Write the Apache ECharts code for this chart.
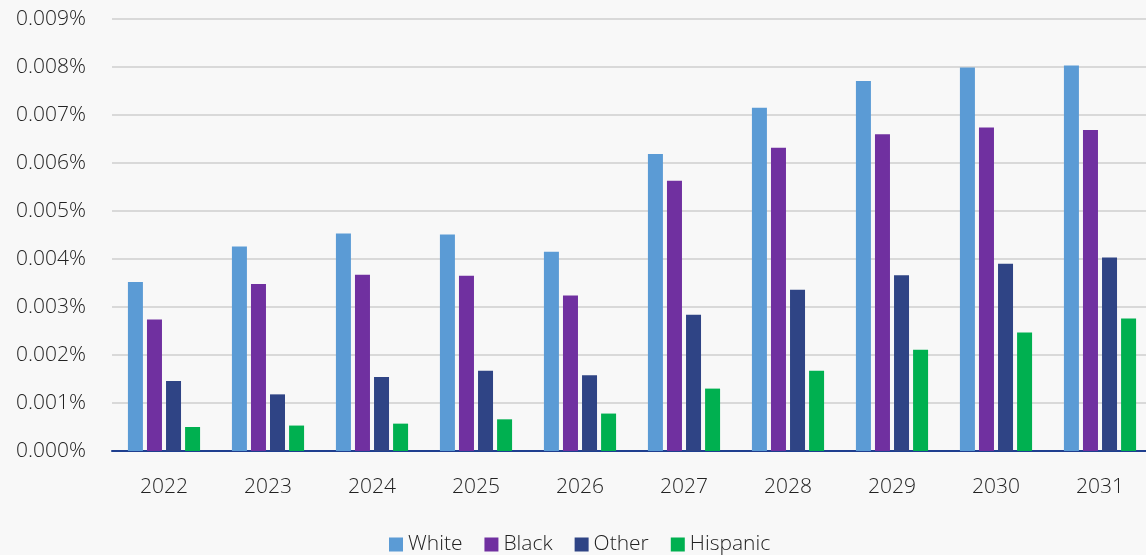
<!DOCTYPE html>
<html>
<head>
<meta charset="utf-8">
<script src="https://cdn.jsdelivr.net/npm/echarts@6/dist/echarts.min.js"></script>
<style>
  html, body { margin: 0; padding: 0; background: #f8f8f8; overflow: hidden; }
  #main { width: 1152px; height: 555px; }
</style>
</head>
<body>
<div id="main"></div>
<script>
// categories and series values (percent units)
const years = ['2022', '2023', '2024', '2025', '2026', '2027', '2028', '2029', '2030', '2031']
const white = [0.00352, 0.00426, 0.00453, 0.00451, 0.00415, 0.00619, 0.00715, 0.00771, 0.00799, 0.00803]
const black = [0.00274, 0.00348, 0.00367, 0.00365, 0.00324, 0.00563, 0.00632, 0.00660, 0.00674, 0.00669]
const other = [0.00146, 0.00118, 0.00154, 0.00167, 0.00158, 0.00284, 0.00336, 0.00366, 0.00390, 0.00403]
const hispanic = [0.00050, 0.00053, 0.00057, 0.00066, 0.00078, 0.00130, 0.00167, 0.00211, 0.00247, 0.00276]

const fontFamily = '"Open Sans", "Noto Sans", sans-serif'

// chart div is a little wider than the window so the last category runs off the edge like the original
let chart = echarts.init(document.getElementById('main'))

function barSeries(name, data, color) {
  return {
    name: name,
    type: 'bar',
    barWidth: 15,
    barGap: '27%',
    itemStyle: { color: color },
    data: data
  }
}

let option = {
  backgroundColor: '#f8f8f8',
  textStyle: { fontFamily: fontFamily },
  legend: {
    top: 529,
    left: 384,
    itemWidth: 14,
    itemHeight: 14,
    itemGap: 22,
    icon: 'rect',
    textStyle: { fontSize: 21, fontWeight: 300, color: '#222', fontFamily: fontFamily },
    data: ['White', 'Black', 'Other', 'Hispanic']
  },
  grid: {
    left: 112,
    right: 0,
    top: 19,
    bottom: 104
  },
  xAxis: {
    type: 'category',
    data: years,
    axisTick: { show: false },
    axisLine: { lineStyle: { color: '#1f3f8f', width: 2 } },
    axisLabel: { fontSize: 21, fontWeight: 300, color: '#222', margin: 26, fontFamily: fontFamily }
  },
  yAxis: {
    type: 'value',
    min: 0,
    max: 0.009,
    interval: 0.001,
    axisLine: { show: false },
    axisTick: { show: false },
    splitLine: { lineStyle: { color: '#d9d9d9', width: 2 } },
    axisLabel: {
      fontSize: 21,
      fontWeight: 300,
      color: '#222',
      margin: 26,
      fontFamily: fontFamily,
      formatter: function (v) { return v.toFixed(3) + '%' }
    }
  },
  series: [
    barSeries('White', white, '#5b9bd5'),
    barSeries('Black', black, '#7030a0'),
    barSeries('Other', other, '#2f4485'),
    barSeries('Hispanic', hispanic, '#00b050')
  ]
}
chart.setOption(option)
</script>
</body>
</html>
